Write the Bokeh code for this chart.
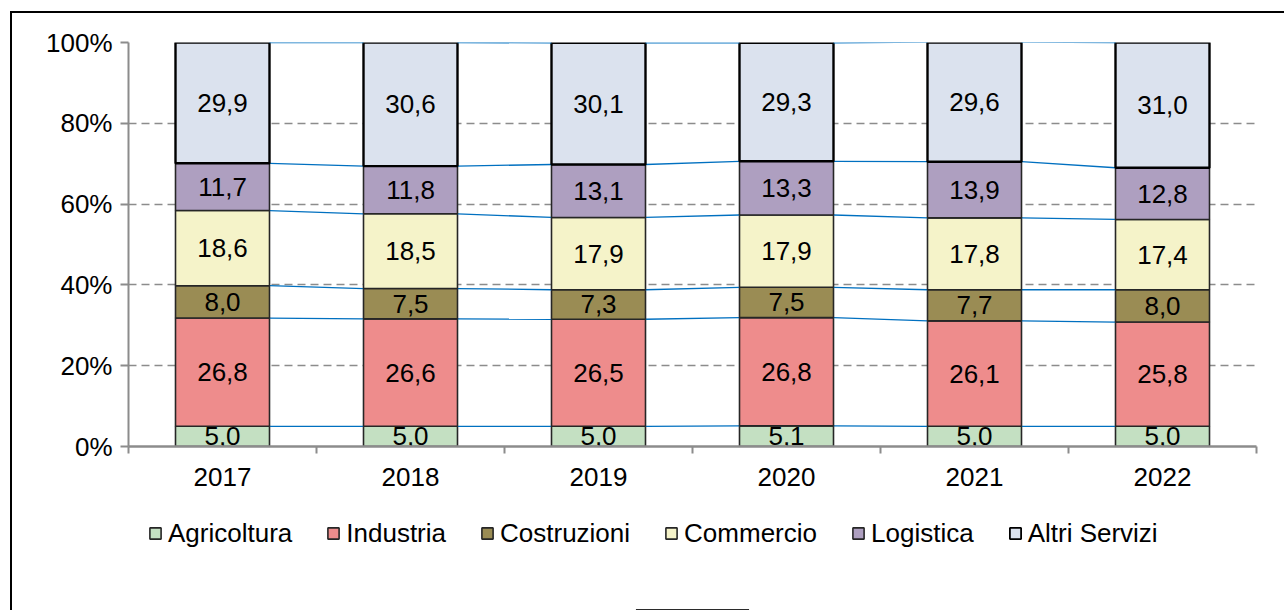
import numpy as np
from bokeh.plotting import figure
from bokeh.layouts import column
from bokeh.models import (Range1d, FixedTicker, Legend, LegendItem, ColumnDataSource)
from bokeh.core.properties import value
from bokeh.embed import file_html
from bokeh.resources import INLINE

years = ["2017", "2018", "2019", "2020", "2021", "2022"]
sectors = ["Agricoltura", "Industria", "Costruzioni", "Commercio", "Logistica", "Altri Servizi"]
agricoltura = [5.0, 5.0, 5.0, 5.1, 5.0, 5.0]
industria = [26.8, 26.6, 26.5, 26.8, 26.1, 25.8]
costruzioni = [8.0, 7.5, 7.3, 7.5, 7.7, 8.0]
commercio = [18.6, 18.5, 17.9, 17.9, 17.8, 17.4]
logistica = [11.7, 11.8, 13.1, 13.3, 13.9, 12.8]
altri_servizi = [29.9, 30.6, 30.1, 29.3, 29.6, 31.0]
y_ticks = [0, 20, 40, 60, 80, 100]
y_tick_labels = ["0%", "20%", "40%", "60%", "80%", "100%"]

series = [agricoltura, industria, costruzioni, commercio, logistica, altri_servizi]
colors = ["#C4E0C2", "#EE8C8C", "#9A8C54", "#F5F3C9", "#AE9FC0", "#DBE2EE"]
line_colors = ["#262626", "#262626", "#262626", "#262626", "#262626", "#000000"]
line_widths = [1.6, 1.6, 1.6, 1.6, 1.6, 2.4]

FONT = "Liberation Sans"
FS = "26px"
BAR_W = 0.5

# ---- main chart -------------------------------------------------------------
p = figure(frame_width=1128, frame_height=404, output_backend="svg", toolbar_location=None,
           x_range=Range1d(0, len(years)), y_range=Range1d(0, 100),
           min_border_left=128, min_border_right=28, min_border_top=42,
           min_border_bottom=54)
p.outline_line_color = None
p.background_fill_color = "white"
p.border_fill_alpha = 0
p.styles = {
    "background-color": "white",
    "background-image": "linear-gradient(#000,#000), linear-gradient(#000,#000)",
    "background-size": "2px 100%, 100% 2px",
    "background-position": "10px 11px, 10px 11px",
    "background-repeat": "no-repeat",
}

# ---- legend strip (below the chart, inside the same chart-area frame) --------
p2 = figure(width=1284, height=110, output_backend="svg", toolbar_location=None,
            x_range=Range1d(0, 1), y_range=Range1d(0, 1),
            x_axis_type=None, y_axis_type=None, min_border=0)
p2.outline_line_color = None
p2.grid.visible = False
p2.background_fill_alpha = 0
p2.border_fill_alpha = 0
p2.styles = {
    "background-color": "white",
    "background-image": "linear-gradient(#000,#000)",
    "background-size": "2px 100%",
    "background-position": "10px 0px",
    "background-repeat": "no-repeat",
}

xc = np.arange(len(years)) + 0.5
bottom = np.zeros(len(years))
items = []
for name, vals, c, lc, lw in zip(sectors, series, colors, line_colors, line_widths):
    vals = np.array(vals)
    top = bottom + vals
    src = ColumnDataSource(dict(x=xc, bottom=bottom, top=top,
                                mid=(bottom + top) / 2,
                                lab=[f"{v:.1f}".replace(".", ",") for v in vals]))
    p.vbar(x="x", width=BAR_W, bottom="bottom", top="top", source=src,
           fill_color=c, line_color=lc, line_width=lw)
    p.text(x="x", y="mid", text="lab", source=src, text_align="center",
           text_baseline="middle", text_font=value(FONT), text_font_size=FS,
           text_color="black")
    p.segment(x0=xc[:-1] + BAR_W / 2, y0=top[:-1], x1=xc[1:] - BAR_W / 2, y1=top[1:],
              line_color="#0070C0", line_width=1.3)
    # legend swatch proxy: one datum kept outside the strip's visible range
    r2 = p2.vbar(x=[0.5], width=0.1, bottom=[-2], top=[-1], fill_color=c,
                 line_color=lc, line_width=min(lw, 1.8))
    items.append(LegendItem(label=name, renderers=[r2]))
    bottom = top

p.xgrid.visible = False
p.ygrid.ticker = FixedTicker(ticks=y_ticks)
p.ygrid.grid_line_color = "#8C8C8C"
p.ygrid.grid_line_dash = "8 5"
p.ygrid.grid_line_width = 1.5
p.ygrid.level = "underlay"

ya = p.yaxis[0]
ya.ticker = FixedTicker(ticks=y_ticks)
ya.major_label_overrides = {t: l for t, l in zip(y_ticks, y_tick_labels)}
ya.axis_line_color = "#8C8C8C"
ya.axis_line_width = 2
ya.major_tick_line_color = "#8C8C8C"
ya.major_tick_line_width = 2
ya.major_tick_in = 0
ya.major_tick_out = 8
ya.minor_tick_line_color = None
ya.major_label_standoff = 8
ya.major_label_text_font = FONT
ya.major_label_text_font_size = FS
ya.major_label_text_color = "black"

xa = p.xaxis[0]
xa.ticker = FixedTicker(ticks=list(xc), minor_ticks=list(range(len(years) + 1)))
xa.major_label_overrides = {float(x): y for x, y in zip(xc, years)}
xa.axis_line_color = "#8C8C8C"
xa.axis_line_width = 2.5
xa.major_tick_line_color = None
xa.minor_tick_line_color = "#8C8C8C"
xa.minor_tick_line_width = 2
xa.minor_tick_in = 0
xa.minor_tick_out = 7
xa.major_label_standoff = 14
xa.major_label_text_font = FONT
xa.major_label_text_font_size = FS
xa.major_label_text_color = "black"

legend = Legend(items=items, orientation="horizontal", location=(20, 59),
                glyph_width=14, glyph_height=14, label_standoff=6, spacing=34,
                padding=0, margin=0, label_height=36, border_line_color=None,
                background_fill_alpha=0,
                label_text_font=FONT, label_text_font_size=FS,
                label_text_color="black")
p2.add_layout(legend)

layout = column(p, p2, spacing=0)
open("out.html", "w").write(file_html(layout, INLINE))
